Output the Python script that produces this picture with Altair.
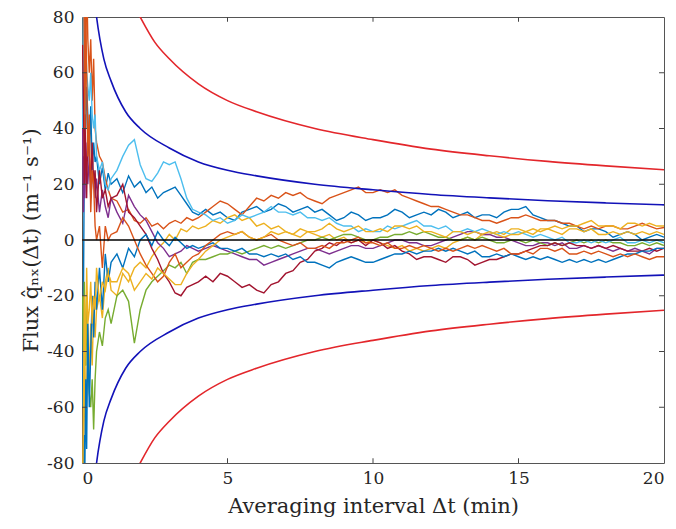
import altair as alt
import pandas as pd

# ---- data ----
T_EARLY = [0.02, 0.05, 0.08, 0.1, 0.13, 0.16, 0.2, 0.25, 0.3, 0.35, 0.4, 0.45,
           0.5, 0.6, 0.7, 0.8, 0.9, 1.0]
T_MID = [1.2, 1.4, 1.6, 1.8, 2.0, 2.2, 2.4, 2.6, 2.8, 3.0, 3.2, 3.4, 3.6, 3.8, 4.0]
T_LATE = [4.25, 4.5, 4.75, 5.0, 5.25, 5.5, 5.75, 6.0, 6.25, 6.5, 6.75, 7.0,
          7.25, 7.5, 7.75, 8.0, 8.25, 8.5, 8.75, 9.0, 9.25, 9.5, 9.75, 10.0,
          10.25, 10.5, 10.75, 11.0, 11.25, 11.5, 11.75, 12.0, 12.25, 12.5, 12.75, 13.0,
          13.25, 13.5, 13.75, 14.0, 14.25, 14.5, 14.75, 15.0, 15.25, 15.5, 15.75, 16.0,
          16.25, 16.5, 16.75, 17.0, 17.25, 17.5, 17.75, 18.0, 18.25, 18.5, 18.75, 19.0,
          19.25, 19.5, 19.75, 20.0]
T = T_EARLY + T_MID + T_LATE

blue1 = ([-60, -20, 30, 60, 40, 55, 45, 30, 48, 25, 35, 28, 30, 20, 26, 18, 24, 20]
         + [22, 17, 23, 19, 21, 17, 19, 15, 17, 18, 19, 16, 13, 10, 9]
         + [11, 9, 10, 8, 7, 10, 11, 12, 10, 11, 13, 12, 10, 11, 12, 10,
            11, 9, 7, 8, 10, 9, 7, 8, 8, 9, 11, 10, 8, 9, 10, 9,
            11, 10, 8, 9, 10, 8, 9, 9, 8, 10, 11, 11, 12, 9, 8, 7,
            7, 6, 5, 5, 3, 4, 4, 3, 1, 2, 3, 2, 0, 1, 2, 1])
orange1 = ([120, 90, 60, 85, 70, 95, 72, 60, 72, 50, 65, 40, 35, 30, 28, 22, 18, 15]
           + [14, 10, 11, 7, 6, 8, 5, 6, 4, 6, 7, 6, 8, 7, 8]
           + [10, 12, 14, 13, 11, 9, 12, 15, 14, 16, 15, 17, 16, 17, 15, 14,
              13, 15, 16, 17, 18, 19, 17, 17, 18, 17, 18, 16, 15, 14, 13, 12,
              12, 11, 10, 9, 9, 8, 7, 7, 6, 7, 8, 8, 9, 8, 7, 7,
              7, 6, 6, 5, 4, 5, 4, 5, 5, 4, 4, 5, 6, 5, 4, 4.5])
yellow1 = ([-110, -80, -60, -40, -70, -55, -30, -50, -30, -45, -25, -35, -25, -20, -28, -15, -10, -18]
           + [-20, -12, -15, -10, -8, -10, -6, -3, -1, 2, 0, 4, 3, 5, 4]
           + [5, 7, 6, 8, 9, 7, 8, 5, 6, 4, 5, 3, 2, 4, 3, 2,
              1, 2, 0, 1, -1, 0, -1, 0, -1, -2, -3, -2, -4, -3, -4, -3,
              -2, -3, -1, 0, 1, 0, 2, 2, 3, 2, 4, 4, 3, 4, 3, 4,
              3, 2, 4, 4, 3, 4, 2, 2, 3, 2, 3, 2, 3, 2, 3, 2])
purple = ([40, 10, 30, 15, 35, 25, 20, 30, 15, 22, 25, 15, 22, 10, 18, 12, 8, 15]
          + [10, 6, 16, 12, 9, 7, 3, -1, -3, -6, -5, -4, -2, -3, -4]
          + [-3, -2, -3, -4, -5, -6, -7, -7, -9, -8, -7, -6, -5, -4, -3, -3,
             -4, -5, -4, -3, -2, -2, -3, -3, -2, -1, 0, 0, -1, -1, -2, -2,
             -1, 0, 1, 2, 3, 3, 2, 2, 1, 1, 0, -1, -2, -2, -1, -1,
             -2, -1, -3, -3, -2, -3, -2, -3, -4, -3, -4, -3, -4, -5, -3, -3])
green = ([-20, -40, -15, -30, -45, -20, -45, -55, -60, -50, -68, -50, -40, -33, -38, -28, -25, -30]
         + [-20, -18, -22, -37, -25, -18, -15, -13, -11, -9, -10, -8, -12, -8, -7]
         + [-7, -6, -5, -5, -4, -5, -4, -3, -2, -3, -2, -3, -2, -1, 0, 0,
            1, 0, 1, 2, 2, 1, 0, 0, 1, 1, 2, 2, 3, 2, 3, 2,
            1, 1, 0, 0, 1, 0, 1, 0, -1, -1, 0, 0, -1, 0, -1, -2,
            -1, -2, -1, 0, -1, 0, -1, 0, -1, -1, -2, -2, -1, -2, -1, -2])
lightblue = ([40, 80, 65, 45, 70, 60, 55, 50, 60, 45, 40, 45, 30, 25, 28, 20, 18, 22]
             + [25, 30, 34, 36, 27, 22, 21, 24, 28, 27, 28, 22, 15, 11, 10]
             + [9, 7, 8, 6, 7, 9, 8, 9, 10, 12, 10, 10, 9, 10, 8, 8,
                7, 8, 6, 5, 5, 3, 4, 3, 3, 5, 4, 5, 6, 7, 5, 5,
                4, 5, 3, 3, 4, 3, 4, 3, 2, 3, 2, 3, 2, 1, 2, 1,
                0, 1, -1, -1, 0, -1, 0, -1, 0, 1, -1, -1, 0, -1, 0, -1])
darkred = ([70, 50, 20, 45, 30, 15, 40, 30, 20, 35, 20, 25, 10, 25, 15, 18, 12, 15]
           + [16, 20, 10, 8, 5, 2, -3, -7, -12, -15, -19, -20, -17, -16, -15]
           + [-13, -15, -12, -13, -15, -17, -16, -18, -19, -16, -15, -12, -11, -8, -7, -4,
              -3, -1, -2, 0, -1, 0, -2, 0, -1, -3, -2, -4, -5, -7, -6, -6,
              -7, -8, -6, -6, -7, -9, -8, -7, -7, -6, -5, -5, -4, -3, -2, -2,
              -1, -2, -1, -2, -2, -3, -2, -3, -2, -3, -4, -4, -4, -3, -4, -3])
blue2 = ([-120, -90, -70, -80, -50, -75, -30, -60, -40, -20, -35, -15, -25, -10, -25, -5, -15, -8]
         + [-5, -10, -3, -6, 0, 2, -2, 3, 0, -2, 1, -1, -3, -2, -3]
         + [-2, -1, -3, -3, -4, -3, -5, -5, -6, -5, -6, -5, -7, -6, -8, -8,
            -9, -10, -8, -7, -6, -7, -8, -8, -7, -6, -5, -5, -4, -5, -4, -4,
            -3, -4, -3, -4, -5, -4, -6, -6, -5, -6, -5, -6, -7, -6, -7, -6,
            -7, -8, -7, -8, -7, -8, -7, -8, -7, -6, -5, -5, -4, -4, -3, -3])
orange2 = ([130, 100, 70, 40, 80, 60, 30, 45, 10, 25, 20, 5, 0, 5, -10, 5, 0, 2]
           + [3, 8, 5, 0, -5, -9, -12, -15, -13, -8, -5, -10, -8, -6, -5]
           + [-2, 0, 2, 3, 2, 3, 1, 0, 1, 2, 0, -1, -2, -1, -3, -3,
              -2, -3, -1, -1, 0, 1, -1, -1, -2, -1, -3, -3, -2, -3, -2, -3,
              -4, -3, -4, -3, -2, -3, -2, -3, -4, -3, -5, -5, -4, -5, -3, -3,
              -4, -3, -5, -5, -4, -5, -4, -5, -6, -5, -6, -5, -6, -7, -6, -6])
yellow2 = ([-90, -60, -20, -45, -35, -10, -30, -25, -15, -30, -20, -25, -10, -22, -15, -18, -12, -15]
           + [-15, -10, -12, -18, -15, -12, -14, -10, -12, -14, -16, -16, -12, -9, -7]
           + [-4, -2, 0, 1, 2, 3, 1, 0, 1, 3, 2, 3, 2, 1, 3, 3,
              4, 6, 4, 3, 4, 5, 3, 3, 4, 3, 5, 5, 4, 5, 3, 3,
              2, 1, 3, 3, 2, 3, 2, 3, 2, 1, 2, 2, 3, 2, 4, 4,
              5, 4, 5, 5, 6, 7, 5, 5, 5, 4, 6, 6, 5, 6, 5, 5])

SERIES = [blue1, orange1, yellow1, purple, green, lightblue, darkred, blue2, orange2, yellow2]
COLORS = ["#0072BD", "#D95319", "#EDB120", "#7E2F8E", "#77AC30",
          "#4DBEEE", "#A2142F", "#0072BD", "#D95319", "#EDB120"]

# envelope curves (upper halves; lower halves are the mirror image)
ENV_BLUE_T = [0.42, 0.5, 0.75, 1, 1.5, 2, 3, 4, 5, 6, 8, 10, 12, 14, 16, 18, 20]
ENV_BLUE_V = [87, 80, 65, 57, 46, 40, 33, 28, 25, 23, 20, 18, 16.3, 15.1, 14.1, 13.3, 12.6]
ENV_RED_T = [1.8, 2, 2.5, 3, 4, 5, 6, 8, 10, 12, 14, 16, 18, 20]
ENV_RED_V = [84, 80, 71, 65, 56, 50, 46, 40, 36, 32.6, 30.2, 28.2, 26.6, 25.2]

X_TICKS = [0, 5, 10, 15, 20]
Y_TICKS = [-80, -60, -40, -20, 0, 20, 40, 60, 80]

# ---- tables ----
rows = []
for i, vals in enumerate(SERIES):
    for t, v in zip(T, vals):
        rows.append({"t": t, "v": v, "s": f"s{i:02d}"})
walk = pd.DataFrame(rows)

env_rows = []
for t, v in zip(ENV_BLUE_T, ENV_BLUE_V):
    env_rows.append({"t": t, "v": v, "c": "blue_up"})
    env_rows.append({"t": t, "v": -v, "c": "blue_dn"})
for t, v in zip(ENV_RED_T, ENV_RED_V):
    env_rows.append({"t": t, "v": v, "c": "red_up"})
    env_rows.append({"t": t, "v": -v, "c": "red_dn"})
env = pd.DataFrame(env_rows)

tick_rows = []
for t in X_TICKS[1:-1]:
    tick_rows.append({"t": t, "t2": t, "v": -80, "v2": -78.3})
    tick_rows.append({"t": t, "t2": t, "v": 80, "v2": 78.3})
for v in Y_TICKS[1:-1]:
    tick_rows.append({"t": 0, "t2": 0.17, "v": v, "v2": v})
    tick_rows.append({"t": 20, "t2": 19.83, "v": v, "v2": v})
ticks = pd.DataFrame(tick_rows)

FONT = "DejaVu Serif"
XS = alt.Scale(domain=[0, 20], nice=False, zero=False)
YS = alt.Scale(domain=[-80, 80], nice=False, zero=False)
XA = alt.Axis(values=X_TICKS, title="Averaging interval Δt (min)", labelExpr="'' + datum.value",
              ticks=False, domain=False, grid=False, labelPadding=7, titlePadding=9)
YA = alt.Axis(values=Y_TICKS, title="Flux q̂ₙₓ(Δt) (m⁻¹ s⁻¹)", labelExpr="'' + datum.value",
              ticks=False, domain=False, grid=False, labelPadding=8, titlePadding=5)


def xe(f="t"):
    return alt.X(f"{f}:Q", scale=XS, axis=XA)


def ye(f="v"):
    return alt.Y(f"{f}:Q", scale=YS, axis=YA)


lines = alt.Chart(walk).mark_line(strokeWidth=1.4, clip=True).encode(
    x=xe(), y=ye(),
    color=alt.Color("s:N", scale=alt.Scale(domain=[f"s{i:02d}" for i in range(10)], range=COLORS), legend=None),
    order=alt.Order("t:Q"),
)

envelope = alt.Chart(env).mark_line(strokeWidth=1.6, clip=True, interpolate="monotone").encode(
    x=xe(), y=ye(),
    detail="c:N",
    stroke=alt.Stroke("c:N", scale=alt.Scale(domain=["blue_up", "blue_dn", "red_up", "red_dn"],
                                             range=["#1212b8", "#1212b8", "#e3262b", "#e3262b"]),
                      legend=None),
)

zero = alt.Chart(pd.DataFrame({"v": [0]})).mark_rule(color="black", strokeWidth=1.6).encode(y=ye())

tickmarks = alt.Chart(ticks).mark_rule(color="#444", strokeWidth=1).encode(
    x=xe(), x2="t2:Q", y=ye(), y2="v2:Q")

chart = alt.layer(lines, envelope, zero, tickmarks).properties(
    width=582, height=446,
    autosize=alt.AutoSizeParams(type="none"),
    padding={"left": 74, "top": 9, "right": 4, "bottom": 58},
).configure_view(stroke="#555", strokeWidth=1).configure_axis(
    labelFont=FONT, labelFontSize=17, labelColor="#262626",
    titleFont=FONT, titleFontSize=21, titleFontWeight="normal", titleColor="#262626",
)

chart.save("out.html", embed_options={"renderer": "svg", "actions": False})
